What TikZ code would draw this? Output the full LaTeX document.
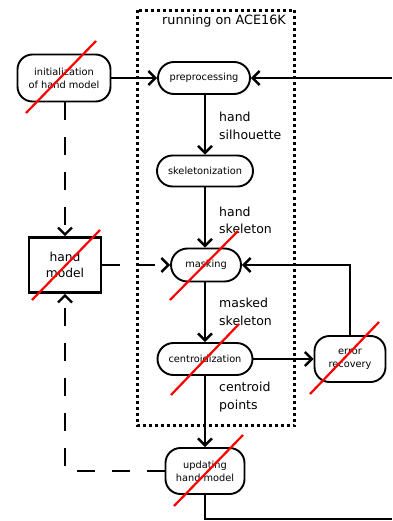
\documentclass[tikz,border=0pt]{standalone}
\usepackage{fontspec}
\setmainfont{DejaVu Sans}
\usetikzlibrary{arrows.meta}
\begin{document}
\begin{tikzpicture}[x=1pt,y=-1pt,
  proc/.style={draw, line width=1.9pt, rectangle, inner sep=0pt, align=center,
    font=\fontsize{9.8}{13}\selectfont},
  flow/.style={line width=2.6pt, -{Straight Barb[length=7pt,width=14pt,line width=2.4pt]}},
  plain/.style={line width=2.6pt},
  dflow/.style={line width=2.6pt, dash pattern=on 18pt off 17pt, -{Straight Barb[length=7pt,width=14pt,line width=2.4pt]}},
  lbl/.style={anchor=west, align=left, inner sep=0pt, font=\fontsize{12.5}{17.5}\selectfont},
  cross/.style={draw=red, line width=2.2pt}]
\useasboundingbox (0,0) rectangle (392,521);
% dotted region
\draw[line width=3pt, dash pattern=on 3pt off 3pt] (137.5,10.5) rectangle (294.5,425.5);
\node[font=\fontsize{12.8}{15}\selectfont, inner sep=0pt] (hdr) at (224,21) {running on ACE16K};
% nodes
\node[proc, minimum width=93pt, minimum height=47pt, rounded corners=15pt] (init) at (64,78) {initialization\\of hand model};
\node[proc, minimum width=92pt, minimum height=32pt, rounded corners=16pt] (pre) at (204,78) {preprocessing};
\node[proc, minimum width=96pt, minimum height=31pt, rounded corners=15.5pt] (ske) at (205,171) {skeletonization};
\node[proc, minimum width=70pt, minimum height=33pt, rounded corners=16.5pt] (mask) at (206,265) {masking};
\node[proc, minimum width=95pt, minimum height=32pt, rounded corners=16pt] (cen) at (205,359) {centroidization};
\node[proc, minimum width=71pt, minimum height=46pt, rounded corners=15pt] (err) at (350,359) {error\\recovery};
\node[proc, minimum width=79pt, minimum height=46pt, rounded corners=15pt] (upd) at (205,471) {updating\\hand model};
\node[draw, line width=2.6pt, minimum width=72pt, minimum height=55pt, inner sep=0pt, align=center,
  font=\fontsize{12.3}{16}\selectfont] (hm) at (65,265) {hand\\model};
% free ends
\coordinate (inR) at (392,78);
\coordinate (outR) at (392,519);
% solid flows
\draw[flow] (init.east) -- (pre.west);
\draw[flow] (inR) -- (pre.east);
\draw[flow] (ske.north |- pre.south) -- (ske.north);
\draw[flow] (ske.south) -- (ske.south |- mask.north);
\draw[flow] (cen.north |- mask.south) -- (cen.north);
\draw[flow] (cen.south) -- (upd.north);
\draw[flow] (cen.east) -- (err.west);
\draw[flow] (err.north) |- (mask.east);
\draw[plain] (upd.south) |- (outR);
% dashed flows
\draw[dflow] (init.south -| hm.north) -- (hm.north);
\draw[dflow] (hm.east) -- (mask.west);
\draw[dflow] (upd.west) -| (hm.south);
% labels
\node[lbl] (l1) at (219,126) {hand\\silhouette};
\node[lbl] (l2) at (219,220.5) {hand\\skeleton};
\node[lbl] (l3) at (219,312) {masked\\skeleton};
\node[lbl] (l4) at (219,397) {centroid\\points};
% red crossings
\draw[cross] (26,113) -- (96,41);
\draw[cross] (32,300) -- (100,230);
\draw[cross] (170,300) -- (238,231);
\draw[cross] (171,395) -- (239,324);
\draw[cross] (310,394) -- (379,322);
\draw[cross] (174,506) -- (243,435);
\end{tikzpicture}
\end{document}
